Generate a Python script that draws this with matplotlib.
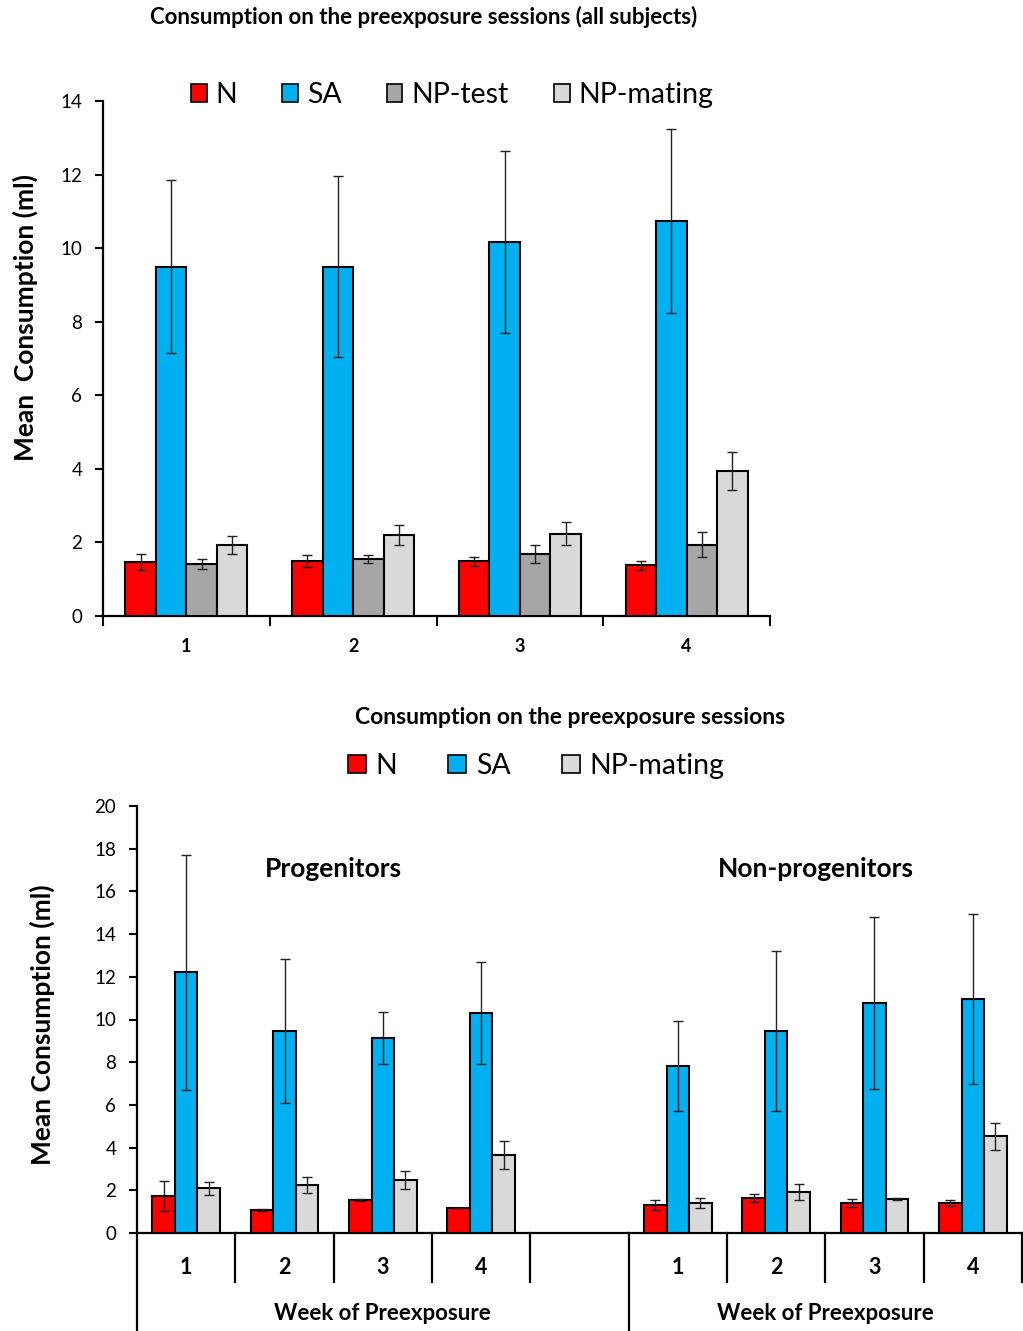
import matplotlib
matplotlib.use("Agg")
import matplotlib.pyplot as plt
import matplotlib.transforms as mtransforms
from matplotlib.patches import Patch
import numpy as np

plt.rcParams['font.family'] = ['Lato', 'DejaVu Sans']

# ---------------- data ----------------
weeks = ['1', '2', '3', '4']
series_top = ['N', 'SA', 'NP-test', 'NP-mating']
colors_top = ['#FF0000', '#00B0F0', '#A6A6A6', '#D9D9D9']

top_N = [1.47, 1.49, 1.49, 1.38]
top_N_err = [0.22, 0.17, 0.12, 0.12]
top_SA = [9.50, 9.50, 10.16, 10.75]
top_SA_err = [2.35, 2.47, 2.47, 2.50]
top_NPt = [1.41, 1.55, 1.68, 1.94]
top_NPt_err = [0.13, 0.12, 0.24, 0.34]
top_NPm = [1.93, 2.20, 2.24, 3.94]
top_NPm_err = [0.24, 0.28, 0.31, 0.51]

series_bot = ['N', 'SA', 'NP-mating']
colors_bot = ['#FF0000', '#00B0F0', '#D9D9D9']
groups = ['Progenitors', 'Non-progenitors']
group_axis_label = 'Week of Preexposure'

prog_N = [1.73, 1.08, 1.55, 1.17]
prog_N_err = [0.70, 0.03, 0.05, 0.0]
prog_SA = [12.22, 9.46, 9.13, 10.30]
prog_SA_err = [5.50, 3.37, 1.22, 2.37]
prog_NPm = [2.10, 2.25, 2.48, 3.65]
prog_NPm_err = [0.30, 0.37, 0.42, 0.65]

nonp_N = [1.31, 1.64, 1.41, 1.41]
nonp_N_err = [0.22, 0.20, 0.17, 0.15]
nonp_SA = [7.82, 9.46, 10.77, 10.96]
nonp_SA_err = [2.10, 3.75, 4.03, 4.00]
nonp_NPm = [1.41, 1.92, 1.59, 4.54]
nonp_NPm_err = [0.25, 0.37, 0.05, 0.63]

# ---------------- figure ----------------
W, H = 1023, 1331
fig = plt.figure(figsize=(W / 100, H / 100), dpi=100)

def fx(px):
    return px / W

def fy(py):
    return 1 - py / H

err_kw = dict(ecolor='#222222', elinewidth=1.0, capsize=3.5, capthick=1.0, zorder=4)

# ---------------- top chart ----------------
ax1 = fig.add_axes([fx(103), fy(616), fx(770) - fx(103), fy(101) - fy(616)])
top_vals = [top_N, top_SA, top_NPt, top_NPm]
top_errs = [top_N_err, top_SA_err, top_NPt_err, top_NPm_err]
x = np.arange(len(weeks))
bw = 0.183
for k, (vals, errs, c, name) in enumerate(zip(top_vals, top_errs, colors_top, series_top)):
    pos = x + (k - 1.5) * bw
    ax1.bar(pos, vals, width=bw, color=c, edgecolor='black', linewidth=1.5, zorder=3, label=name)
    ax1.errorbar(pos, vals, yerr=errs, fmt='none', **err_kw)

ax1.set_xlim(-0.5, len(weeks) - 0.5)
ax1.set_ylim(0, 14)
ax1.set_yticks(np.arange(0, 15, 2))
ax1.set_xticks(x)
ax1.set_xticklabels(weeks, fontweight='bold', fontsize=13)
ax1.set_xticks(np.arange(-0.5, len(weeks)), minor=True)
ax1.tick_params(axis='x', which='major', length=0, pad=16)
ax1.tick_params(axis='x', which='minor', length=7, width=1.5, direction='out')
ax1.tick_params(axis='y', length=6, width=1.5, direction='out', labelsize=13.5, pad=9)
for s in ['top', 'right']:
    ax1.spines[s].set_visible(False)
for s in ['left', 'bottom']:
    ax1.spines[s].set_linewidth(1.6)
fig.text(fx(25), fy(318), 'Mean  Consumption (ml)', rotation=90, ha='center', va='center',
         fontsize=19, fontweight='bold')

fig.text(fx(424), fy(17), 'Consumption on the preexposure sessions (all subjects)',
         ha='center', va='center', fontsize=16, fontweight='bold')

handles1 = [Patch(facecolor=c, edgecolor='black', linewidth=1.2) for c in colors_top]
fig.legend(handles1, series_top, loc='center', bbox_to_anchor=(fx(452), fy(95)), ncol=4,
           frameon=False, fontsize=20.5, handlelength=0.55, handleheight=0.55,
           handletextpad=0.3, columnspacing=1.6)

# ---------------- bottom chart ----------------
ax2 = fig.add_axes([fx(137), fy(1233), fx(1022) - fx(137), fy(806) - fy(1233)])
bot_sets = [
    ([prog_N, prog_SA, prog_NPm], [prog_N_err, prog_SA_err, prog_NPm_err]),
    ([nonp_N, nonp_SA, nonp_NPm], [nonp_N_err, nonp_SA_err, nonp_NPm_err]),
]
nw = len(weeks)
slot_starts = [0, nw + 1]
nslots = 2 * nw + 1
bw2 = 0.23
for g, (vals_list, errs_list) in enumerate(bot_sets):
    base = slot_starts[g] + np.arange(nw)
    for k, (vals, errs, c) in enumerate(zip(vals_list, errs_list, colors_bot)):
        pos = base + (k - 1) * bw2
        ax2.bar(pos, vals, width=bw2, color=c, edgecolor='black', linewidth=1.5, zorder=3)
        ax2.errorbar(pos, vals, yerr=errs, fmt='none', **err_kw)

ax2.set_xlim(-0.5, nslots - 0.5)
ax2.set_ylim(0, 20)
ax2.set_yticks(np.arange(0, 21, 2))
ax2.tick_params(axis='y', length=6, width=1.5, direction='out', labelsize=13.5, pad=9)
ax2.set_xticks([])
for s in ['top', 'right']:
    ax2.spines[s].set_visible(False)
for s in ['left', 'bottom']:
    ax2.spines[s].set_linewidth(1.6)

trans = mtransforms.blended_transform_factory(ax2.transData, ax2.transAxes)
ppa = 1233 - 806  # pixels per axes unit
row1 = -(1282 - 1233) / ppa
row2 = -(1331 - 1233) / ppa
lab1_y = -(1267 - 1233) / ppa
lab2_y = -(1313 - 1233) / ppa
for b in np.arange(0.5, nslots - 0.5 + 1):
    long_line = (b == nw + 0.5)
    ax2.plot([b, b], [0, row2 if long_line else row1], transform=trans, color='black',
             lw=1.6, clip_on=False, zorder=5)
ax2.plot([-0.5, -0.5], [0, row2], transform=trans, color='black', lw=1.6, clip_on=False)
group_label_x = [1.5, 6.4]
for g in range(2):
    for i, wlab in enumerate(weeks):
        ax2.text(slot_starts[g] + i, lab1_y, wlab, transform=trans, ha='center', va='center',
                 fontsize=15.5, fontweight='bold')
    ax2.text(slot_starts[g] + (nw - 1) / 2 + (0.5 if g == 0 else 0), lab2_y,
             group_axis_label, transform=trans, ha='center', va='center', fontsize=16,
             fontweight='bold')
    ax2.text(group_label_x[g], 17.05, groups[g], ha='center', va='center', fontsize=19,
             fontweight='bold')

fig.text(fx(42), fy(1025), 'Mean Consumption (ml)', rotation=90, ha='center', va='center',
         fontsize=19, fontweight='bold')
fig.text(fx(570), fy(718), 'Consumption on the preexposure sessions',
         ha='center', va='center', fontsize=16.5, fontweight='bold')

handles2 = [Patch(facecolor=c, edgecolor='black', linewidth=1.2) for c in colors_bot]
fig.legend(handles2, series_bot, loc='center', bbox_to_anchor=(fx(536), fy(766)), ncol=3,
           frameon=False, fontsize=20.5, handlelength=0.63, handleheight=0.63,
           handletextpad=0.33, columnspacing=1.8)

fig.savefig('out.png', dpi=100)
